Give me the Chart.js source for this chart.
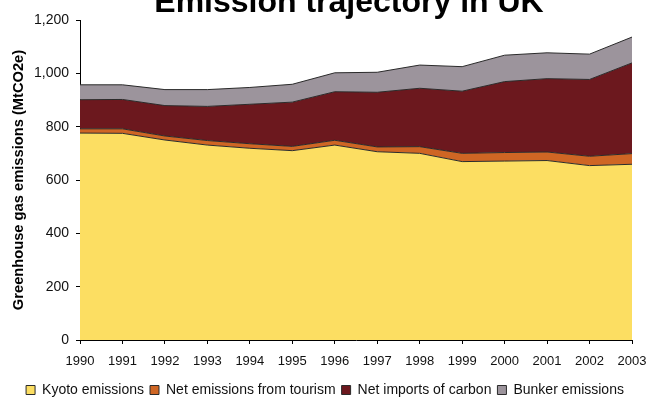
<!DOCTYPE html>
<html>
<head>
<meta charset="utf-8">
<script src="https://cdn.jsdelivr.net/npm/chart.js@4/dist/chart.umd.min.js"></script>
<style>
  html, body { margin: 0; padding: 0; background: #fff; overflow: hidden; }
  #wrap { position: relative; width: 650px; height: 399px; }
</style>
</head>
<body>
<div id="wrap"><canvas id="chart"></canvas></div>
<script>
// UK greenhouse gas emissions, MtCO2e, stacked by source
const years = ['1990','1991','1992','1993','1994','1995','1996','1997','1998','1999','2000','2001','2002','2003'];
const kyotoEmissions   = [776, 775, 750, 731, 719, 710, 731, 706, 700, 669, 671, 673, 654, 659];
const tourismEmissions = [16, 17, 15, 17, 17, 16, 18, 18, 25, 31, 32, 32, 35, 40];
const carbonImports    = [109, 110, 114, 128, 148, 166, 182, 205, 219, 233, 266, 275, 288, 340];
const bunkerEmissions  = [56, 55, 60, 63, 63, 67, 71, 75, 87, 92, 99, 97, 95, 97];

const seriesNames = ['Kyoto emissions', 'Net emissions from tourism', 'Net imports of carbon', 'Bunker emissions'];
const seriesColors = ['#FCDE62', '#CF6624', '#6C181E', '#9C949C'];
const seriesValues = [kyotoEmissions, tourismEmissions, carbonImports, bunkerEmissions];

const FONT = "'Liberation Sans', Arial, Helvetica, sans-serif";
const INK = '#111111';

// Chart heading, drawn above the plot area
const headingPlugin = {
  id: 'heading',
  afterDraw(chart) {
    const ctx = chart.ctx;
    ctx.save();
    ctx.font = 'bold 32px ' + FONT;
    ctx.fillStyle = '#000';
    ctx.textAlign = 'center';
    ctx.textBaseline = 'alphabetic';
    ctx.fillText('Emission trajectory in UK', 349, 12);
    ctx.restore();
  }
};

const datasets = seriesNames.map((name, i) => ({
  label: name,
  data: seriesValues[i],
  backgroundColor: seriesColors[i],
  borderColor: '#2b2b2b',
  borderWidth: 1,
  pointRadius: 0,
  pointHoverRadius: 0,
  tension: 0,
  fill: i === 0 ? 'origin' : '-1'
}));

new Chart(document.getElementById('chart'), {
  type: 'line',
  data: { labels: years, datasets },
  plugins: [headingPlugin],
  options: {
    responsive: true,
    maintainAspectRatio: false,
    animation: false,
    events: [],
    layout: { padding: { left: 0, right: 0, top: 20, bottom: -8 } },
    plugins: {
      title: { display: false },
      tooltip: { enabled: false },
      legend: {
        display: true,
        position: 'bottom',
        align: 'center',
        labels: {
          boxWidth: 9,
          boxHeight: 9,
          padding: 6,
          color: INK,
          font: { family: FONT, size: 14 }
        }
      }
    },
    scales: {
      x: {
        type: 'category',
        offset: false,
        afterFit(scale) {
          scale.height = 37;
          scale.paddingRight = 18;
        },
        border: { display: true, color: '#000', width: 1 },
        grid: { display: true, drawOnChartArea: false, drawTicks: true, tickLength: 4, color: '#000', offset: false },
        ticks: { color: INK, font: { family: FONT, size: 13 }, padding: 10, maxRotation: 0, autoSkip: false }
      },
      y: {
        stacked: true,
        min: 0,
        max: 1200,
        afterFit(scale) { scale.width = 80; },
        border: { display: true, color: '#000', width: 1 },
        grid: { display: true, drawOnChartArea: false, drawTicks: true, tickLength: 4, color: '#000' },
        ticks: { stepSize: 200, color: INK, font: { family: FONT, size: 14 }, padding: 7 },
        title: {
          display: true,
          text: 'Greenhouse gas emissions (MtCO2e)',
          color: '#000',
          font: { family: FONT, size: 14.7, weight: 'bold' },
          padding: { top: 10, bottom: 0 }
        }
      }
    }
  }
});
</script>
</body>
</html>
